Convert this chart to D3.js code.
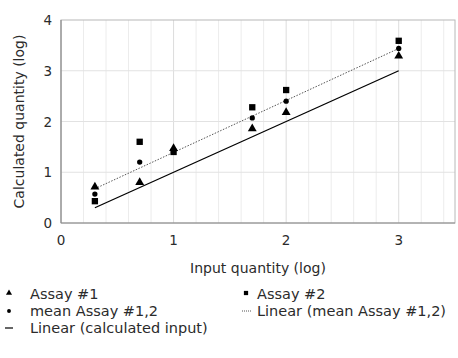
<!DOCTYPE html>
<html>
<head>
<meta charset="utf-8">
<script src="https://cdn.jsdelivr.net/npm/d3@7"></script>
<style>
  body { margin: 0; background: #fff; }
  text { font-family: "DejaVu Sans", sans-serif; fill: #2b2b2b; }
</style>
</head>
<body>
<svg id="chart" width="458" height="358"></svg>
<script>
// input quantity (log) for each dilution
const inputLog = [0.301, 0.699, 1.0, 1.699, 2.0, 3.0];
const assay1 = [0.71, 0.80, 1.47, 1.86, 2.18, 3.29];
const assay2 = [0.43, 1.60, 1.40, 2.28, 2.62, 3.59];
const meanAssay = [0.57, 1.20, 1.43, 2.07, 2.40, 3.44];
const xTicks = [0, 1, 2, 3];
const yTicks = [0, 1, 2, 3, 4];

const svg = d3.select('#chart');
const m = {left: 61, top: 20, right: 455, bottom: 223};

const x = d3.scaleLinear().domain([0, 3.5]).range([m.left, m.right]);
const y = d3.scaleLinear().domain([0, 4]).range([m.bottom, m.top]);

// minor vertical grid every 0.2
const minor = d3.range(0.2, 3.5, 0.2).filter(v => Math.abs(v - Math.round(v)) > 1e-6);
svg.append('g').selectAll('line').data(minor).enter().append('line')
  .attr('x1', d => x(d)).attr('x2', d => x(d))
  .attr('y1', m.top).attr('y2', m.bottom)
  .attr('stroke', '#ececec').attr('stroke-width', 1);
svg.append('g').selectAll('line').data(xTicks.slice(1)).enter().append('line')
  .attr('x1', d => x(d)).attr('x2', d => x(d))
  .attr('y1', m.top).attr('y2', m.bottom)
  .attr('stroke', '#dcdcdc').attr('stroke-width', 1);
svg.append('g').selectAll('line').data(yTicks.slice(1, -1)).enter().append('line')
  .attr('x1', m.left).attr('x2', m.right)
  .attr('y1', d => y(d)).attr('y2', d => y(d))
  .attr('stroke', '#e2e2e2').attr('stroke-width', 1.2);

// frame
svg.append('rect')
  .attr('x', m.left).attr('y', m.top)
  .attr('width', m.right - m.left).attr('height', m.bottom - m.top)
  .attr('fill', 'none').attr('stroke', '#b8b8b8').attr('stroke-width', 1);
svg.append('line').attr('x1', m.left).attr('x2', m.left).attr('y1', m.top).attr('y2', m.bottom)
  .attr('stroke', '#8c8c8c').attr('stroke-width', 1.2);
svg.append('line').attr('x1', m.left).attr('x2', m.right).attr('y1', m.bottom).attr('y2', m.bottom)
  .attr('stroke', '#8c8c8c').attr('stroke-width', 1.2);

// tick labels
svg.append('g').selectAll('text').data(xTicks).enter().append('text')
  .attr('x', d => x(d)).attr('y', m.bottom + 22)
  .attr('text-anchor', 'middle').attr('font-size', 13.5).text(d => d);
svg.append('g').selectAll('text').data(yTicks).enter().append('text')
  .attr('x', m.left - 9).attr('y', d => y(d) + 5)
  .attr('text-anchor', 'end').attr('font-size', 13.5).text(d => d);

// axis titles
svg.append('text').attr('x', x(1.75)).attr('y', 273)
  .attr('text-anchor', 'middle').attr('font-size', 14).text('Input quantity (log)');
svg.append('text').attr('transform', `translate(24,${(m.top + m.bottom) / 2}) rotate(-90)`)
  .attr('text-anchor', 'middle').attr('font-size', 14).text('Calculated quantity (log)');

// linear (calculated input): y = x
const xMin = d3.min(inputLog), xMax = d3.max(inputLog);
svg.append('line')
  .attr('x1', x(xMin)).attr('y1', y(xMin)).attr('x2', x(xMax)).attr('y2', y(xMax))
  .attr('stroke', '#000').attr('stroke-width', 1.3);

// linear regression of mean
const mx = d3.mean(inputLog), my = d3.mean(meanAssay);
let sxy = 0, sxx = 0;
inputLog.forEach((v, i) => { sxy += (v - mx) * (meanAssay[i] - my); sxx += (v - mx) * (v - mx); });
const slope = sxy / sxx, icpt = my - slope * mx;
svg.append('line')
  .attr('x1', x(xMin)).attr('y1', y(icpt + slope * xMin))
  .attr('x2', x(xMax)).attr('y2', y(icpt + slope * xMax))
  .attr('stroke', '#555').attr('stroke-width', 1).attr('stroke-dasharray', '1.5,1.5');

const tri = d3.symbol().type(d3.symbolTriangle).size(34);
const sq = d3.symbol().type(d3.symbolSquare).size(40);
const circ = d3.symbol().type(d3.symbolCircle).size(22);

svg.append('g').selectAll('path').data(inputLog).enter().append('path')
  .attr('d', sq).attr('transform', (d, i) => `translate(${x(d)},${y(assay2[i])})`).attr('fill', '#000');
svg.append('g').selectAll('path').data(inputLog).enter().append('path')
  .attr('d', tri).attr('transform', (d, i) => `translate(${x(d)},${y(assay1[i])})`).attr('fill', '#000');
svg.append('g').selectAll('path').data(inputLog).enter().append('path')
  .attr('d', circ).attr('transform', (d, i) => `translate(${x(d)},${y(meanAssay[i])})`).attr('fill', '#000');

// legend
const lg = svg.append('g').attr('font-size', 14.5);
const row = [294, 311, 328];
lg.append('path').attr('d', d3.symbol().type(d3.symbolTriangle).size(16)).attr('transform', `translate(9,${row[0] - 1})`);
lg.append('text').attr('x', 30).attr('y', row[0] + 5).text('Assay #1');
lg.append('path').attr('d', d3.symbol().type(d3.symbolSquare).size(18)).attr('transform', `translate(246,${row[0] - 1})`);
lg.append('text').attr('x', 257).attr('y', row[0] + 5).text('Assay #2');
lg.append('path').attr('d', d3.symbol().type(d3.symbolCircle).size(12)).attr('transform', `translate(9,${row[1]})`);
lg.append('text').attr('x', 30).attr('y', row[1] + 5).text('mean Assay #1,2');
lg.append('line').attr('x1', 242).attr('x2', 251).attr('y1', row[1]).attr('y2', row[1])
  .attr('stroke', '#555').attr('stroke-dasharray', '1,1');
lg.append('text').attr('x', 257).attr('y', row[1] + 5).text('Linear (mean Assay #1,2)');
lg.append('line').attr('x1', 5).attr('x2', 13).attr('y1', row[2]).attr('y2', row[2])
  .attr('stroke', '#000').attr('stroke-width', 1.2);
lg.append('text').attr('x', 30).attr('y', row[2] + 5).text('Linear (calculated input)');
</script>
</body>
</html>
